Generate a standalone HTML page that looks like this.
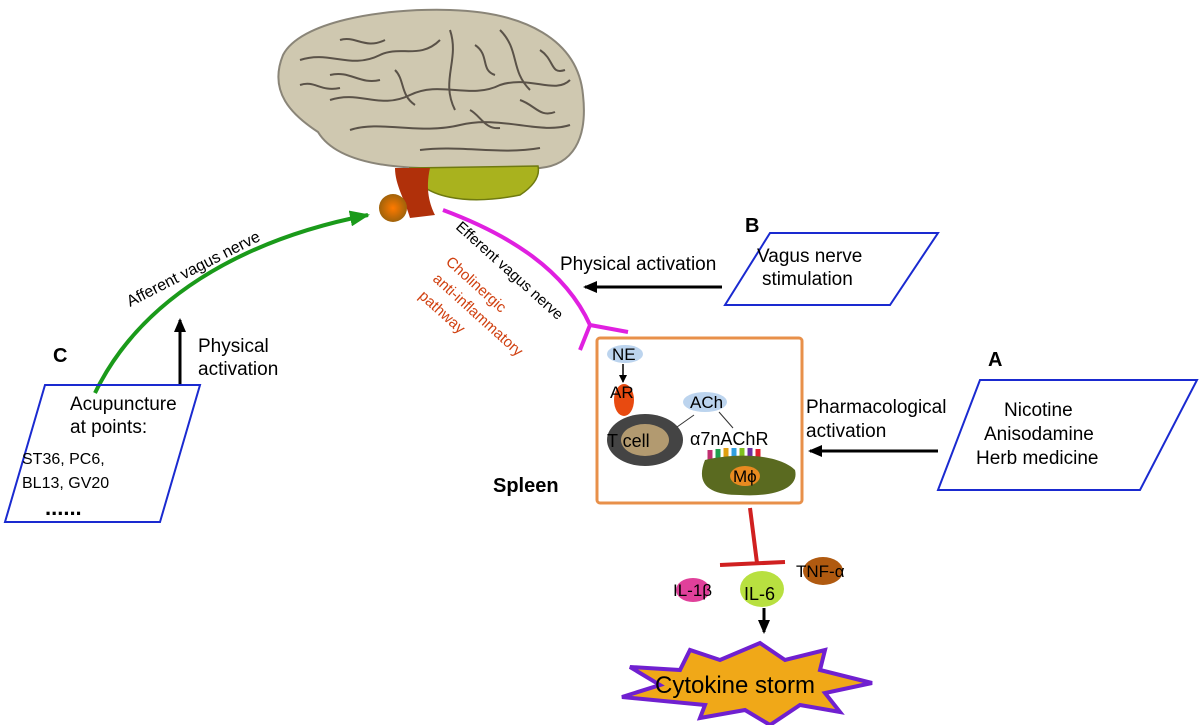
<!DOCTYPE html>
<html><head><meta charset="utf-8"><style>
body{margin:0;background:#fff}
svg{display:block;font-family:"Liberation Sans",sans-serif}
</style></head><body>
<svg width="1200" height="725" viewBox="0 0 1200 725">
<defs>
<marker id="ah" markerWidth="14" markerHeight="12" refX="12" refY="6" orient="auto" markerUnits="userSpaceOnUse"><path d="M0,0 L14,6 L0,12 z" fill="#000"/></marker>
<marker id="ahs" markerWidth="8" markerHeight="8" refX="7" refY="4" orient="auto" markerUnits="userSpaceOnUse"><path d="M0,0 L8,4 L0,8 z" fill="#000"/></marker>
<marker id="ag" markerWidth="20" markerHeight="16" refX="18" refY="8" orient="auto" markerUnits="userSpaceOnUse"><path d="M0,0 L20,8 L0,16 z" fill="#1a9a1a"/></marker>
<radialGradient id="ob"><stop offset="0" stop-color="#ff7a00"/><stop offset="1" stop-color="#a0620a"/></radialGradient>
</defs>
<!-- brain -->
<path d="M283,55 C300,22 380,8 450,10 C525,12 578,40 583,95 C588,140 572,165 540,168 L420,168 C360,166 330,152 318,132 C292,115 268,92 283,55 Z" fill="#cfc8b0" stroke="#8a8578" stroke-width="2"/>
<g fill="none" stroke="#5a5248" stroke-width="2">
<path d="M300,60 C330,50 350,70 380,55 C400,45 420,60 440,40"/>
<path d="M330,100 C360,90 380,110 410,95 C440,80 470,100 500,85 C530,75 555,95 570,80"/>
<path d="M350,130 C380,120 420,135 460,125 C500,115 540,135 570,125"/>
<path d="M450,30 C460,60 440,80 455,110"/>
<path d="M500,30 C520,50 510,70 530,90"/>
<path d="M330,75 C350,70 360,85 380,80"/>
<path d="M420,150 C460,145 500,155 540,148"/>
<path d="M340,40 C355,35 365,50 385,40"/>
<path d="M395,70 C405,80 400,95 415,105"/>
<path d="M475,45 C490,55 480,70 495,75"/>
<path d="M540,50 C555,60 550,75 565,70"/>
<path d="M300,85 C315,80 320,92 340,88"/>
<path d="M470,110 C480,115 485,130 500,128"/>
<path d="M520,100 C535,105 540,118 555,112"/>
</g>
<path d="M410,168 C420,200 470,205 520,195 C535,185 540,175 538,166 Z" fill="#a9b21e" stroke="#6f7a10" stroke-width="1.5"/>
<path d="M395,168 L430,168 C425,190 430,205 435,215 L410,218 C405,200 395,185 395,168 Z" fill="#b0300a"/>
<circle cx="393" cy="208" r="14" fill="url(#ob)"/>
<!-- green afferent -->
<path d="M95,393 C140,300 240,240 368,215" fill="none" stroke="#1a9a1a" stroke-width="4" marker-end="url(#ag)"/>
<text transform="translate(130,307) rotate(-27)" font-size="16">Afferent vagus nerve</text>
<!-- magenta efferent -->
<path d="M443,210 C510,235 565,270 590,325 M590,325 L628,332 M590,325 L580,350" fill="none" stroke="#e020e0" stroke-width="4"/>
<text transform="translate(455,228) rotate(42)" font-size="15">Efferent vagus nerve</text>
<g fill="#d04010" font-size="15">
<text transform="translate(445,263) rotate(42)">Cholinergic</text>
<text transform="translate(432,280) rotate(42)">anti-inflammatory</text>
<text transform="translate(418,297) rotate(42)">pathway</text>
</g>
<!-- B -->
<text x="745" y="232" font-size="20" font-weight="bold">B</text>
<text x="560" y="270" font-size="19">Physical activation</text>
<line x1="722" y1="287" x2="585" y2="287" stroke="#000" stroke-width="3" marker-end="url(#ah)"/>
<polygon points="770,233 938,233 890,305 725,305" fill="none" stroke="#1a2ad0" stroke-width="2"/>
<text x="757" y="262" font-size="19">Vagus nerve</text>
<text x="762" y="285" font-size="19">stimulation</text>
<!-- A -->
<text x="988" y="366" font-size="20" font-weight="bold">A</text>
<polygon points="980,380 1197,380 1140,490 938,490" fill="none" stroke="#1a2ad0" stroke-width="2"/>
<text x="1004" y="416" font-size="19">Nicotine</text>
<text x="984" y="440" font-size="19">Anisodamine</text>
<text x="976" y="464" font-size="19">Herb medicine</text>
<text x="806" y="413" font-size="19">Pharmacological</text>
<text x="806" y="437" font-size="19">activation</text>
<line x1="938" y1="451" x2="810" y2="451" stroke="#000" stroke-width="3" marker-end="url(#ah)"/>
<!-- C -->
<text x="53" y="362" font-size="20" font-weight="bold">C</text>
<line x1="180" y1="385" x2="180" y2="320" stroke="#000" stroke-width="3" marker-end="url(#ah)"/>
<text x="198" y="352" font-size="19">Physical</text>
<text x="198" y="375" font-size="19">activation</text>
<polygon points="45,385 200,385 160,522 5,522" fill="none" stroke="#1a2ad0" stroke-width="2"/>
<text x="70" y="410" font-size="19">Acupuncture</text>
<text x="70" y="433" font-size="19">at points:</text>
<text x="22" y="464" font-size="16">ST36, PC6,</text>
<text x="22" y="488" font-size="16">BL13, GV20</text>
<text x="45" y="515" font-size="22" font-weight="bold">......</text>
<!-- spleen box -->
<text x="493" y="492" font-size="20" font-weight="bold">Spleen</text>
<rect x="597" y="338" width="205" height="165" rx="3" fill="none" stroke="#e8904a" stroke-width="3"/>
<ellipse cx="625" cy="354" rx="18" ry="9" fill="#bcd4ee"/>
<text x="612" y="360" font-size="17">NE</text>
<line x1="623" y1="364" x2="623" y2="382" stroke="#000" stroke-width="1.5" marker-end="url(#ahs)"/>
<ellipse cx="624" cy="400" rx="10" ry="16" fill="#e84a10"/>
<text x="610" y="398" font-size="17">AR</text>
<ellipse cx="645" cy="440" rx="38" ry="26" fill="#444"/>
<ellipse cx="645" cy="440" rx="24" ry="16" fill="#b29a70"/>
<text x="607" y="447" font-size="18">T cell</text>
<ellipse cx="705" cy="402" rx="22" ry="10" fill="#bcd4ee"/>
<text x="690" y="408" font-size="17">ACh</text>
<line x1="677" y1="427" x2="694" y2="415" stroke="#333" stroke-width="1"/>
<line x1="719" y1="412" x2="733" y2="428" stroke="#333" stroke-width="1"/>
<g stroke-width="5"><line x1="710" y1="450" x2="710" y2="462" stroke="#c03070"/><line x1="718" y1="449" x2="718" y2="462" stroke="#20a050"/><line x1="726" y1="448" x2="726" y2="462" stroke="#e0a010"/><line x1="734" y1="448" x2="734" y2="462" stroke="#30a0e0"/><line x1="742" y1="448" x2="742" y2="462" stroke="#80c020"/><line x1="750" y1="448" x2="750" y2="462" stroke="#7030a0"/><line x1="758" y1="449" x2="758" y2="462" stroke="#e02030"/></g>
<text x="690" y="445" font-size="18">α7nAChR</text>
<path d="M705,460 C740,452 780,455 795,470 C800,490 770,497 740,495 C710,495 695,485 705,460 Z" fill="#5a6a20"/>
<ellipse cx="745" cy="476" rx="15" ry="10" fill="#e88a20"/>
<text x="733" y="482" font-size="17">Mϕ</text>
<!-- inhibition -->
<path d="M750,508 L757,563 M720,565 L785,562" stroke="#d02020" stroke-width="4" fill="none"/>
<ellipse cx="693" cy="590" rx="17" ry="12" fill="#e0409a"/>
<text x="673" y="596" font-size="17">IL-1β</text>
<ellipse cx="762" cy="589" rx="22" ry="18" fill="#b8e040"/>
<text x="744" y="600" font-size="18">IL-6</text>
<ellipse cx="823" cy="571" rx="20" ry="14" fill="#b05a10"/>
<text x="796" y="577" font-size="17">TNF-α</text>
<line x1="764" y1="608" x2="764" y2="632" stroke="#000" stroke-width="3" marker-end="url(#ah)"/>
<!-- starburst -->
<polygon points="760,643 785,660 825,650 820,670 872,683 825,693 840,712 800,705 770,725 745,710 700,718 705,705 622,697 660,685 630,667 680,670 690,650 720,660" fill="#f0a818" stroke="#7020d0" stroke-width="4"/>
<text x="655" y="693" font-size="24">Cytokine storm</text>
</svg>
</body></html>
